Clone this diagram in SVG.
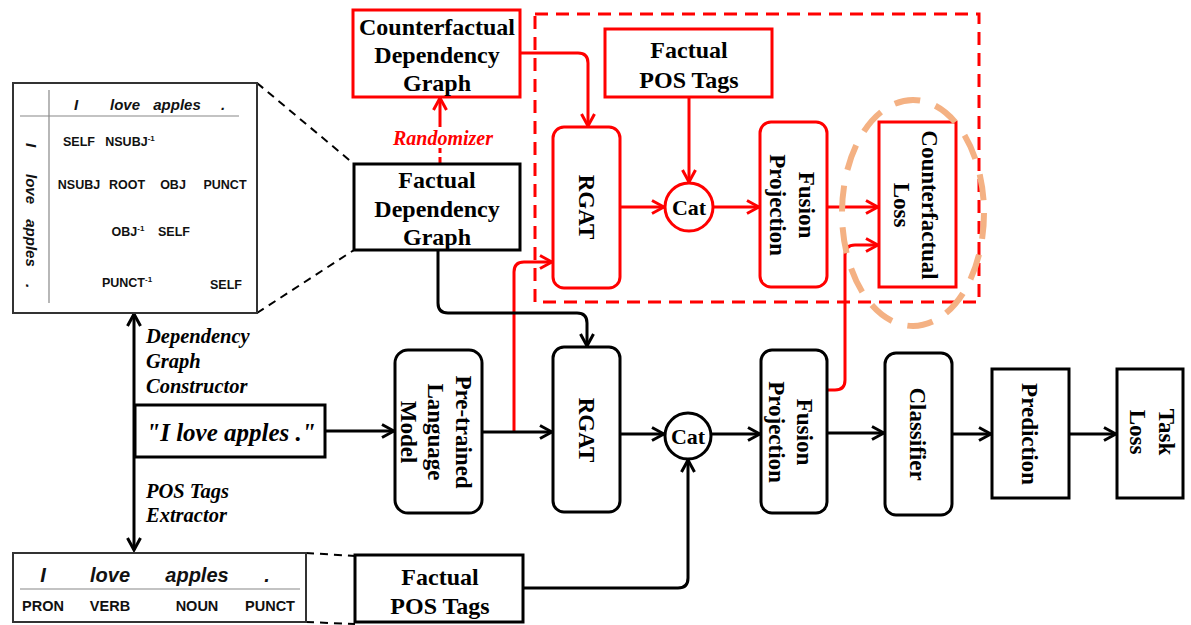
<svg xmlns="http://www.w3.org/2000/svg" width="1191" height="625" viewBox="0 0 1191 625">
<style>
.bx{fill:#fff;stroke:#000;stroke-width:3}
.rbx{fill:#fff;stroke:#f00;stroke-width:3}
.t{font-family:"Liberation Serif",serif;font-weight:bold;font-size:24px;text-anchor:middle;fill:#000}
.tv{font-family:"Liberation Serif",serif;font-weight:bold;font-size:23px;text-anchor:middle;fill:#000}
.ti{font-family:"Liberation Serif",serif;font-weight:bold;font-style:italic;font-size:20.5px;fill:#000}
.m{font-family:"Liberation Sans",sans-serif;font-weight:bold;font-size:12.5px;text-anchor:middle;fill:#111}
.mi{font-family:"Liberation Sans",sans-serif;font-weight:bold;font-style:italic;font-size:15px;text-anchor:middle;fill:#111}
.k{fill:none;stroke:#000;stroke-width:3}
.r{fill:none;stroke:#f00;stroke-width:3}
.d{fill:none;stroke:#000;stroke-width:2;stroke-dasharray:8 6}
.thin{stroke:#888;stroke-width:1.2}
</style>
<defs>
<marker id="ab" viewBox="0 0 16 16" refX="14" refY="8" markerWidth="16" markerHeight="16" markerUnits="userSpaceOnUse" orient="auto-start-reverse">
<path d="M2,1.5 L14,8 L2,14.5" fill="none" stroke="#000" stroke-width="3"/>
</marker>
<marker id="ar" viewBox="0 0 16 16" refX="14" refY="8" markerWidth="16" markerHeight="16" markerUnits="userSpaceOnUse" orient="auto-start-reverse">
<path d="M2,1.5 L14,8 L2,14.5" fill="none" stroke="#f00" stroke-width="3"/>
</marker>
</defs>
<rect width="1191" height="625" fill="#fff"/>

<g id="cf-region">
<rect x="535" y="14" width="444" height="288" fill="none" stroke="#f00" stroke-width="3" stroke-dasharray="13 8"/>
</g>

<g id="connectors">
<path class="d" d="M257,83 L354,164"/>
<path class="d" d="M257,313 L354,250"/>
<path class="d" d="M306,553 L355,556"/>
<path class="d" d="M306,622 L355,624"/>
<path class="r" d="M520,53 H578 Q588,53 588,63 V126" marker-end="url(#ar)"/>
<path class="r" d="M689,97 V182" marker-end="url(#ar)"/>
<path class="r" d="M620,207 H664" marker-end="url(#ar)"/>
<path class="r" d="M713,207 H759" marker-end="url(#ar)"/>
<path class="r" d="M827,207 H878" marker-end="url(#ar)"/>
<path class="r" d="M827,390 H835 Q845,390 845,380 V255 Q845,245 855,245 H878" marker-end="url(#ar)"/>
<path class="r" d="M514,432 V272 Q514,262 524,262 H552" marker-end="url(#ar)"/>
<path class="r" d="M440,164 V148" stroke-dasharray="7 4"/>
<path class="r" d="M440,127 V98" marker-end="url(#ar)"/>
<path class="k" d="M438,250 V303 Q438,313 448,313 H577 Q587,313 587,323 V346" marker-end="url(#ab)"/>
<path class="k" d="M325,431 H394" marker-end="url(#ab)"/>
<path class="k" d="M482,432 H552" marker-end="url(#ab)"/>
<path class="k" d="M620,434 H664" marker-end="url(#ab)"/>
<path class="k" d="M711,434 H760" marker-end="url(#ab)"/>
<path class="k" d="M827,433 H884" marker-end="url(#ab)"/>
<path class="k" d="M952,434 H991" marker-end="url(#ab)"/>
<path class="k" d="M1069,434 H1116" marker-end="url(#ab)"/>
<path class="k" d="M523,588 H678 Q688,588 688,578 V460" marker-end="url(#ab)"/>
<path class="k" d="M134,314 V550" marker-start="url(#ab)" marker-end="url(#ab)"/>
</g>

<g id="dep-matrix">
<rect x="13" y="83" width="244" height="230" fill="#fff" stroke="#333" stroke-width="2"/>
<line class="thin" x1="49" y1="90" x2="49" y2="303"/>
<line class="thin" x1="20" y1="116" x2="239" y2="116"/>
<text class="mi" x="76" y="110">I</text>
<text class="mi" x="125" y="110">love</text>
<text class="mi" x="177" y="110">apples</text>
<text class="mi" x="223" y="110">.</text>
<text class="mi" transform="translate(26,145) rotate(90)">I</text>
<text class="mi" transform="translate(26,189) rotate(90)">love</text>
<text class="mi" transform="translate(26,243) rotate(90)">apples</text>
<text class="mi" transform="translate(26,286) rotate(90)">.</text>
<text class="m" x="79" y="146">SELF</text>
<text class="m" x="130" y="146">NSUBJ<tspan font-size="8" dy="-5">-1</tspan></text>
<text class="m" x="79" y="189">NSUBJ</text>
<text class="m" x="127" y="189">ROOT</text>
<text class="m" x="173" y="189">OBJ</text>
<text class="m" x="225" y="189">PUNCT</text>
<text class="m" x="128" y="236">OBJ<tspan font-size="8" dy="-5">-1</tspan></text>
<text class="m" x="174" y="236">SELF</text>
<text class="m" x="127" y="287">PUNCT<tspan font-size="8" dy="-5">-1</tspan></text>
<text class="m" x="226" y="289">SELF</text>
</g>

<g id="pos-table">
<rect x="13" y="553" width="293" height="69" fill="#fff" stroke="#333" stroke-width="2"/>
<line class="thin" x1="20" y1="589" x2="300" y2="589"/>
<g font-family="Liberation Sans, sans-serif" font-weight="bold" font-style="italic" font-size="20" text-anchor="middle" fill="#111">
<text x="43" y="582">I</text>
<text x="110" y="582">love</text>
<text x="197" y="582">apples</text>
<text x="267" y="582">.</text>
</g>
<g font-family="Liberation Sans, sans-serif" font-weight="bold" font-size="14.5" text-anchor="middle" fill="#111">
<text x="43" y="611">PRON</text>
<text x="110" y="611">VERB</text>
<text x="197" y="611">NOUN</text>
<text x="270" y="611">PUNCT</text>
</g>
</g>

<g id="cf-dep-graph">
<rect class="rbx" x="353" y="10" width="167" height="87"/>
<text class="t" x="437" y="35">Counterfactual</text>
<text class="t" x="437" y="63">Dependency</text>
<text class="t" x="437" y="91">Graph</text>
</g>

<g id="randomizer-label">
<text x="443" y="145" font-family="Liberation Serif, serif" font-weight="bold" font-style="italic" font-size="20" text-anchor="middle" fill="#f00">Randomizer</text>
</g>

<g id="fact-dep-graph">
<rect class="bx" x="354" y="164" width="166" height="86"/>
<text class="t" x="437" y="188">Factual</text>
<text class="t" x="437" y="217">Dependency</text>
<text class="t" x="437" y="245">Graph</text>
</g>

<g id="cf-pos-tags">
<rect class="rbx" x="605" y="29" width="167" height="68"/>
<text class="t" x="689" y="58">Factual</text>
<text class="t" x="689" y="88">POS Tags</text>
</g>

<g id="cf-rgat">
<rect class="rbx" x="553" y="127" width="67" height="161" rx="11"/>
<text class="tv" transform="translate(579,207) rotate(90)">RGAT</text>
</g>

<g id="cf-cat">
<circle cx="689" cy="207" r="24" fill="#fff" stroke="#f00" stroke-width="3"/>
<text x="689" y="215" font-family="Liberation Serif, serif" font-weight="bold" font-size="22" text-anchor="middle">Cat</text>
</g>

<g id="cf-fusion">
<rect class="rbx" x="760" y="122" width="67" height="165" rx="11"/>
<text class="tv" transform="translate(799,205) rotate(90)">Fusion</text>
<text class="tv" transform="translate(770,205) rotate(90)">Projection</text>
</g>

<g id="cf-loss">
<rect class="rbx" x="879" y="122" width="77" height="165"/>
<text class="tv" transform="translate(922,205) rotate(90)">Counterfactual</text>
<text class="tv" transform="translate(894,205) rotate(90)">Loss</text>
</g>

<g id="highlight">
<ellipse cx="913" cy="213" rx="71" ry="113" fill="none" stroke="#f4b183" stroke-width="6" stroke-dasharray="26 16"/>
</g>

<g id="extractor-labels">
<text class="ti" x="146" y="343">Dependency</text>
<text class="ti" x="146" y="368">Graph</text>
<text class="ti" x="146" y="393">Constructor</text>
<text class="ti" x="146" y="498">POS Tags</text>
<text class="ti" x="146" y="522">Extractor</text>
</g>

<g id="sentence">
<rect class="bx" x="135" y="405" width="190" height="52"/>
<text x="231" y="441" font-family="Liberation Serif, serif" font-weight="bold" font-style="italic" font-size="25" text-anchor="middle">"I love apples ."</text>
</g>

<g id="plm">
<rect class="bx" x="395" y="350" width="87" height="163" rx="13"/>
<text class="tv" transform="translate(456,432) rotate(90)">Pre-trained</text>
<text class="tv" transform="translate(428,432) rotate(90)">Language</text>
<text class="tv" transform="translate(401,432) rotate(90)">Model</text>
</g>

<g id="rgat">
<rect class="bx" x="553" y="347" width="67" height="165" rx="11"/>
<text class="tv" transform="translate(579,430) rotate(90)">RGAT</text>
</g>

<g id="cat">
<circle cx="688" cy="436" r="23" fill="#fff" stroke="#000" stroke-width="3"/>
<text x="688" y="444" font-family="Liberation Serif, serif" font-weight="bold" font-size="22" text-anchor="middle">Cat</text>
</g>

<g id="fusion">
<rect class="bx" x="761" y="350" width="66" height="163" rx="11"/>
<text class="tv" transform="translate(797,432) rotate(90)">Fusion</text>
<text class="tv" transform="translate(769,432) rotate(90)">Projection</text>
</g>

<g id="classifier">
<rect class="bx" x="885" y="353" width="67" height="162" rx="11"/>
<text class="tv" transform="translate(910,434) rotate(90)">Classifier</text>
</g>

<g id="prediction">
<rect class="bx" x="992" y="369" width="77" height="129"/>
<text class="tv" transform="translate(1022,434) rotate(90)">Prediction</text>
</g>

<g id="task-loss">
<rect class="bx" x="1117" y="369" width="66" height="129"/>
<text class="tv" transform="translate(1159,432) rotate(90)">Task</text>
<text class="tv" transform="translate(1130,432) rotate(90)">Loss</text>
</g>

<g id="pos-tags">
<rect class="bx" x="355" y="555" width="168" height="67"/>
<text class="t" x="440" y="585">Factual</text>
<text class="t" x="440" y="614">POS Tags</text>
</g>
</svg>
